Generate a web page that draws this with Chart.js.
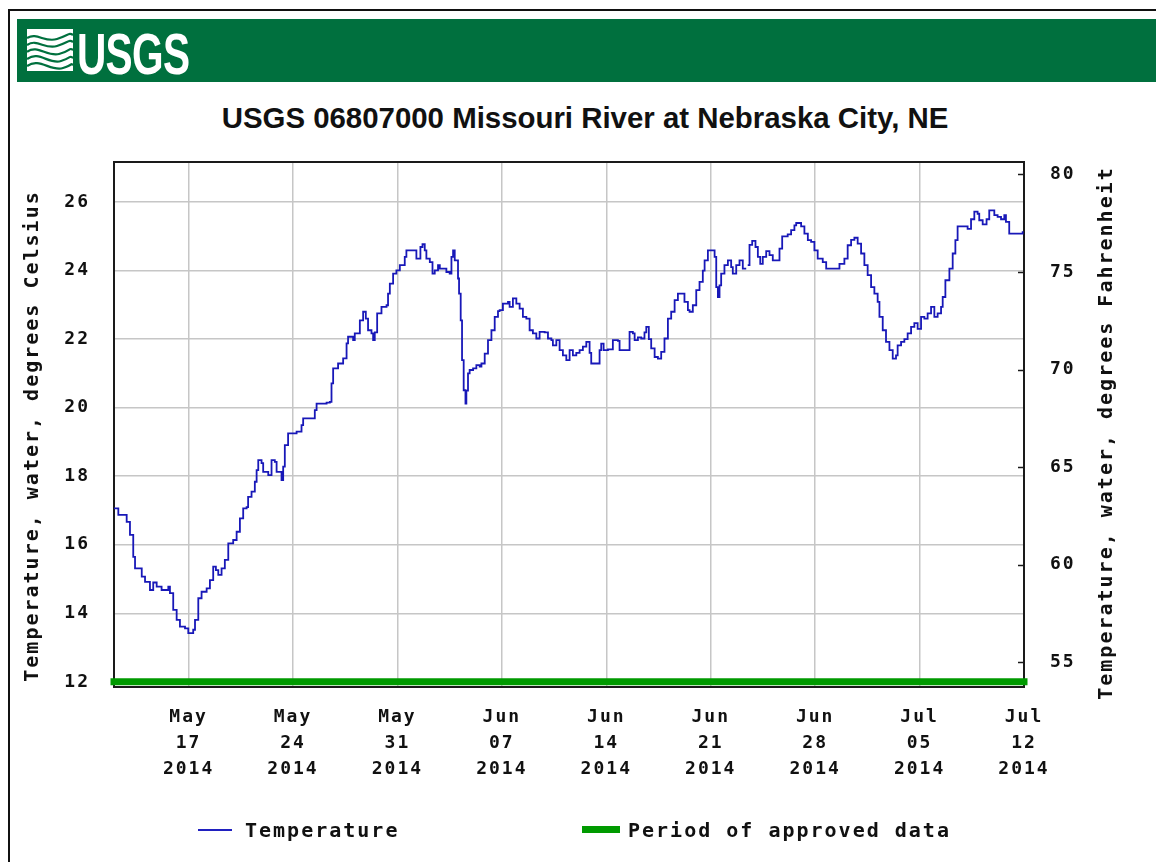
<!DOCTYPE html>
<html>
<head>
<meta charset="utf-8">
<title>USGS 06807000 Missouri River at Nebraska City, NE</title>
<script src="https://cdn.jsdelivr.net/npm/chart.js@4.4.1/dist/chart.umd.min.js"></script>
<style>
  html, body { margin: 0; padding: 0; background: #fff; }
  #page { position: relative; width: 1156px; height: 862px; overflow: hidden; background: #fff; }
  .rule-top { position: absolute; left: 8px; top: 9px; right: 0; border-top: 2px solid #111; }
  .rule-left { position: absolute; left: 8px; top: 9px; bottom: 0; border-left: 2px solid #111; }
  #banner { position: absolute; left: 17px; top: 19px; right: 0; height: 63px; background: #00703e; }
  #banner svg { position: absolute; left: 10px; top: 10px; }
  #banner .logo { position: absolute; left: 60px; top: 1px; color: #fff; font: bold 58px "Liberation Sans Narrow", "Liberation Sans", sans-serif; letter-spacing: -1px; transform: scaleX(0.7); transform-origin: left top; }
  #title { position: absolute; left: 7px; top: 100px; width: 1156px; text-align: center; font: bold 30px/36px "Liberation Sans Narrow", "Liberation Sans", sans-serif; color: #111; transform: scaleX(0.98); transform-origin: center top; }
  #chart { position: absolute; left: 0; top: 0; }
  .legend { position: absolute; top: 818px; height: 24px; font: bold 20px/24px "DejaVu Sans Mono", monospace; letter-spacing: 2px; color: #111; white-space: nowrap; }
  .swatch { position: absolute; }
</style>
</head>
<body>
<div id="page">
  <div class="rule-top"></div>
  <div class="rule-left"></div>
  <div id="banner">
    <svg width="48" height="44" viewBox="0 0 48 44">
      <rect x="0" y="0" width="46" height="42" fill="#ffffff"/>
      <g fill="none" stroke="#00703e" stroke-width="2.2">
        <path d="M0 9 C10 3, 18 14, 30 10 S 42 3, 46 6"/>
        <path d="M0 16 C10 9, 18 21, 30 17 S 42 10, 46 13"/>
        <path d="M0 23 C10 15, 20 28, 32 25 S 42 18, 46 21"/>
        <path d="M0 30 C12 21, 22 36, 34 32 S 42 26, 46 29"/>
        <path d="M0 37 C12 28, 24 43, 36 39 S 43 34, 46 36"/>
      </g>
    </svg>
    <span class="logo">USGS</span>
  </div>
  <div id="title">USGS 06807000 Missouri River at Nebraska City, NE</div>
  <canvas id="chart" width="1156" height="862"></canvas>
  <div class="swatch" style="left:198px;top:829px;width:34px;height:2px;background:#2020c0"></div>
  <div class="legend" style="left:245px">Temperature</div>
  <div class="swatch" style="left:582px;top:826px;width:38px;height:7px;background:#009a00"></div>
  <div class="legend" style="left:628px">Period of approved data</div>
</div>
<script>
// Water temperature readings: [days since 2014-05-12 00:00, degrees Celsius]
const readings = [
  [0.00,17.06],[0.29,16.87],[0.62,16.87],[0.85,16.67],[1.07,16.29],[1.29,15.65],[1.41,15.31],[1.74,15.31],
  [1.86,15.07],[2.08,14.92],[2.41,14.68],[2.63,14.90],[2.86,14.78],[3.19,14.68],[3.53,14.68],[3.64,14.78],
  [3.75,14.59],[3.97,14.10],[4.20,13.81],[4.42,13.61],[4.76,13.56],[4.98,13.42],[5.31,13.52],[5.43,13.81],
  [5.65,14.44],[5.87,14.63],[6.21,14.73],[6.43,14.97],[6.65,15.36],[6.83,15.26],[6.99,15.12],[7.21,15.31],
  [7.43,15.56],[7.66,16.04],[7.99,16.14],[8.22,16.38],[8.44,16.77],[8.66,17.06],[8.89,17.10],[8.99,17.40],
  [9.22,17.55],[9.44,17.84],[9.56,18.18],[9.67,18.47],[9.89,18.38],[10.00,18.13],[10.34,18.03],[10.56,18.47],
  [10.78,18.42],[10.90,18.13],[11.23,17.89],[11.34,18.28],[11.45,18.91],[11.67,19.25],[12.01,19.25],[12.24,19.30],
  [12.46,19.30],[12.57,19.49],[12.68,19.69],[13.35,19.69],[13.46,19.93],[13.58,20.12],[14.25,20.15],[14.47,20.17],
  [14.58,20.71],[14.69,21.15],[15.02,21.29],[15.36,21.44],[15.59,21.88],[15.69,22.07],[16.03,21.97],[16.14,22.17],
  [16.36,22.17],[16.48,22.55],[16.70,22.80],[16.88,22.60],[17.03,22.26],[17.26,22.17],[17.37,21.97],[17.48,22.20],
  [17.64,22.75],[17.93,22.94],[18.27,22.99],[18.37,23.33],[18.49,23.62],[18.71,23.91],[18.93,24.01],[19.16,24.16],
  [19.49,24.40],[19.60,24.59],[20.16,24.59],[20.27,24.35],[20.45,24.35],[20.54,24.69],[20.68,24.77],[20.83,24.59],
  [20.94,24.35],[21.17,24.25],[21.35,23.91],[21.50,24.01],[21.72,24.16],[21.84,24.06],[22.28,23.96],[22.50,23.91],
  [22.62,24.40],[22.73,24.59],[22.84,24.30],[23.06,23.77],[23.13,23.33],[23.24,22.55],[23.33,21.39],[23.44,20.51],
  [23.56,20.12],[23.62,20.50],[23.73,21.00],[23.84,21.10],[24.07,21.15],[24.29,21.24],[24.51,21.20],[24.63,21.29],
  [24.85,21.58],[25.07,21.97],[25.30,22.26],[25.52,22.65],[25.74,22.82],[25.85,22.85],[26.07,23.04],[26.41,23.09],
  [26.52,22.94],[26.74,23.19],[26.97,23.04],[27.19,22.89],[27.41,22.65],[27.64,22.60],[27.86,22.26],[28.08,22.17],
  [28.31,22.02],[28.53,22.21],[28.87,22.20],[29.09,22.02],[29.32,21.97],[29.42,21.82],[29.65,21.97],[29.87,21.68],
  [30.09,21.53],[30.32,21.39],[30.54,21.68],[30.76,21.53],[30.99,21.60],[31.21,21.68],[31.43,21.78],[31.66,21.92],
  [31.88,21.60],[31.99,21.29],[32.44,21.29],[32.55,21.68],[32.66,21.87],[32.82,21.68],[33.11,21.70],[33.44,21.97],
  [33.78,21.95],[33.89,21.68],[34.45,21.68],[34.56,22.21],[34.78,22.17],[34.90,21.97],[35.12,22.05],[35.34,22.02],
  [35.56,22.20],[35.68,22.36],[35.85,22.00],[36.01,21.73],[36.24,21.48],[36.46,21.43],[36.68,21.63],[36.90,22.02],
  [37.13,22.60],[37.35,22.80],[37.58,23.14],[37.80,23.33],[38.09,23.33],[38.24,23.09],[38.47,22.85],[38.58,22.80],
  [38.80,22.99],[39.03,23.43],[39.25,23.67],[39.47,24.00],[39.59,24.30],[39.81,24.59],[40.14,24.59],[40.26,24.40],
  [40.37,23.52],[40.48,23.23],[40.59,23.57],[40.70,23.91],[40.92,24.16],[41.15,24.30],[41.37,24.10],[41.48,23.91],
  [41.71,24.16],[41.93,24.30],[42.15,24.06],[42.38,24.06],[42.43,null],[42.48,24.16],[42.60,24.75],[42.78,24.87],
  [43.00,24.69],[43.16,24.40],[43.32,24.20],[43.49,24.40],[43.72,24.57],[43.94,24.45],[44.16,24.30],[44.49,24.30],
  [44.61,24.64],[44.79,25.00],[45.16,25.06],[45.39,25.18],[45.61,25.32],[45.73,25.39],[46.06,25.29],[46.28,25.08],
  [46.51,24.89],[46.73,24.84],[46.95,24.59],[47.17,24.35],[47.51,24.25],[47.74,24.06],[48.41,24.06],[48.63,24.20],
  [48.96,24.35],[49.18,24.74],[49.41,24.90],[49.63,24.96],[49.85,24.79],[50.08,24.50],[50.30,24.16],[50.52,23.87],
  [50.75,23.52],[50.97,23.33],[51.19,23.09],[51.31,22.65],[51.53,22.26],[51.75,21.92],[51.98,21.68],[52.20,21.43],
  [52.42,21.53],[52.53,21.82],[52.76,21.92],[52.98,22.00],[53.20,22.17],[53.43,22.36],[53.65,22.47],[53.87,22.30],
  [54.10,22.65],[54.32,22.60],[54.54,22.75],[54.77,22.94],[54.99,22.65],[55.21,22.75],[55.44,22.94],[55.55,23.23],
  [55.73,23.72],[56.00,24.06],[56.22,24.50],[56.40,24.89],[56.55,25.29],[56.89,25.29],[57.22,25.22],[57.45,25.50],
  [57.67,25.72],[57.89,25.66],[58.00,25.47],[58.23,25.35],[58.49,25.50],[58.67,25.76],[58.85,25.76],[59.01,25.62],
  [59.23,25.57],[59.46,25.50],[59.68,25.62],[59.79,25.42],[60.01,25.08],[60.80,25.08],[60.91,25.15]
];

// Approved-data period, spanning the whole window, drawn along the 12 °C baseline
const approvedSpan = [0, 61];
const approvedLevel = 12;

// Axis ticks
const xTickDays = [5, 12, 19, 26, 33, 40, 47, 54, 61];
const xTickLabels = [
  ['May', '17', '2014'], ['May', '24', '2014'], ['May', '31', '2014'],
  ['Jun', '07', '2014'], ['Jun', '14', '2014'], ['Jun', '21', '2014'],
  ['Jun', '28', '2014'], ['Jul', '05', '2014'], ['Jul', '12', '2014']
];
const celsiusTicks = [12, 14, 16, 18, 20, 22, 24, 26];
const fahrenheitTicks = [55, 60, 65, 70, 75, 80];

const MONO = '"DejaVu Sans Mono", "Liberation Mono", monospace';
const INK = '#111111';
const GRID = '#c6c6c6';

// Bitmap-style spacing for the monospace axis text, plus frame, inner ticks and axis titles
const plotDecor = {
  id: 'plotDecor',
  beforeUpdate(chart) { chart.ctx.letterSpacing = '2px'; },
  beforeDraw(chart) { chart.ctx.letterSpacing = '2px'; },
  beforeDatasetsDraw(chart) {
    const { ctx, chartArea: a, scales } = chart;
    ctx.save();
    ctx.strokeStyle = '#1a1a1a';
    ctx.lineWidth = 2;
    ctx.strokeRect(a.left, a.top, a.right - a.left, a.bottom - a.top);
    const f = scales.yF;
    ctx.lineWidth = 1.5;
    f.ticks.forEach(t => {
      const y = Math.round(f.getPixelForValue(t.value)) + 0.5;
      ctx.beginPath();
      ctx.moveTo(a.right - 6, y);
      ctx.lineTo(a.right, y);
      ctx.stroke();
    });
    ctx.restore();
  },
  afterDraw(chart) {
    const { ctx, scales } = chart;
    ctx.save();
    ctx.letterSpacing = '2px';
    ctx.fillStyle = INK;
    ctx.font = 'bold 20px ' + MONO;
    ctx.textAlign = 'center';
    ctx.textBaseline = 'middle';
    [[scales.yC, 33, 436], [scales.yF, 1107, 433]].forEach(([s, x, y]) => {
      ctx.save();
      ctx.translate(x, y);
      ctx.rotate(-Math.PI / 2);
      ctx.fillText(s.options.title.text, 0, 0);
      ctx.restore();
    });
    ctx.restore();
  }
};

new Chart(document.getElementById('chart'), {
  type: 'line',
  data: {
    datasets: [
      {
        label: 'Period of approved data',
        data: approvedSpan.map(d => ({ x: d, y: approvedLevel })),
        borderColor: '#009a00',
        borderWidth: 7,
        borderCapStyle: 'square',
        pointRadius: 0,
        clip: false,
        yAxisID: 'yC',
        order: 2
      },
      {
        label: 'Temperature',
        data: readings.map(([d, t]) => ({ x: d, y: t })),
        borderColor: '#1818b8',
        borderWidth: 1.8,
        stepped: true,
        spanGaps: false,
        pointRadius: 0,
        yAxisID: 'yC',
        order: 1
      }
    ]
  },
  options: {
    responsive: false,
    animation: false,
    devicePixelRatio: 1,
    layout: { padding: { left: 10, right: 20, top: 162, bottom: 0 } },
    plugins: {
      legend: { display: false },
      title: { display: false },
      tooltip: { enabled: false }
    },
    scales: {
      x: {
        type: 'linear',
        position: 'bottom',
        min: 0,
        max: 61,
        afterBuildTicks: s => { s.ticks = xTickDays.map(v => ({ value: v })); },
        afterFit: s => { s.height = 175; },
        ticks: {
          autoSkip: false,
          maxRotation: 0,
          padding: 18,
          color: INK,
          font: { family: MONO, size: 18, weight: 'bold', lineHeight: 1.42 },
          callback: (v, i) => xTickLabels[i]
        },
        grid: { color: GRID, lineWidth: 1.5, drawTicks: false },
        border: { display: false }
      },
      yC: {
        type: 'linear',
        position: 'left',
        min: 11.85,
        max: 27.17,
        afterBuildTicks: s => { s.ticks = celsiusTicks.map(v => ({ value: v })); },
        afterFit: s => { s.width = 104; },
        title: { display: false, text: 'Temperature, water, degrees Celsius' },
        ticks: {
          padding: 24,
          color: INK,
          font: { family: MONO, size: 18, weight: 'bold' },
          callback: v => String(v)
        },
        grid: { color: GRID, lineWidth: 1.5, drawTicks: false },
        border: { display: false }
      },
      yF: {
        type: 'linear',
        position: 'right',
        min: 53.72,
        max: 80.64,
        afterBuildTicks: s => { s.ticks = fahrenheitTicks.map(v => ({ value: v })); },
        afterFit: s => { s.width = 112; },
        title: { display: false, text: 'Temperature, water, degrees Fahrenheit' },
        ticks: {
          padding: 26,
          color: INK,
          font: { family: MONO, size: 18, weight: 'bold' },
          callback: v => String(v)
        },
        grid: { drawOnChartArea: false, drawTicks: false },
        border: { display: false }
      }
    }
  },
  plugins: [plotDecor]
});
</script>
</body>
</html>
